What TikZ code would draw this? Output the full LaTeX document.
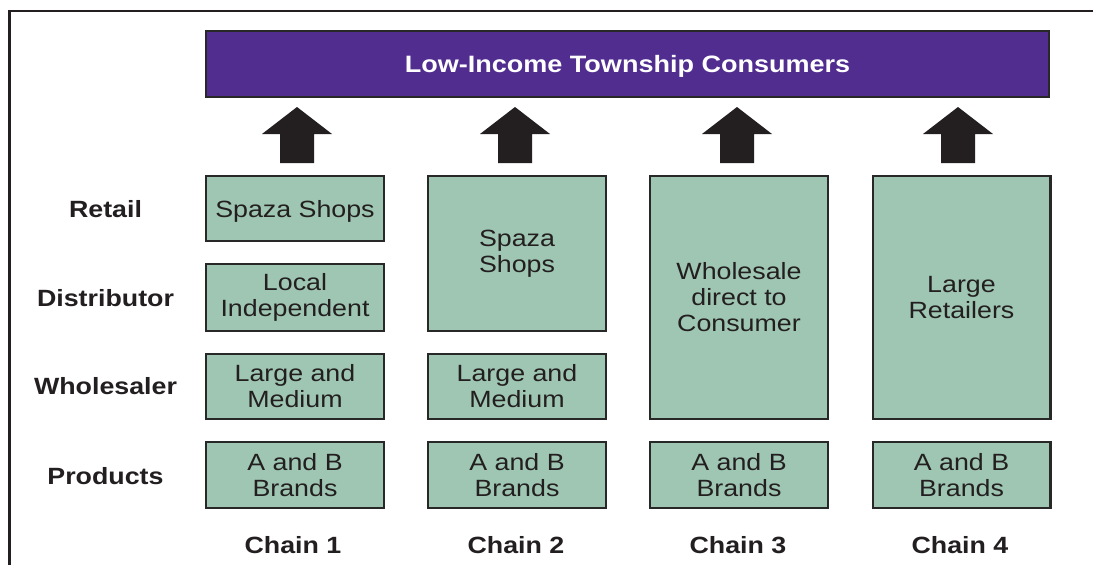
\documentclass[tikz,border=0pt]{standalone}
\usepackage{fontspec}
\newfontfamily\lsans{Liberation Sans}[FakeStretch=1.14]
\usetikzlibrary{calc}
\definecolor{purp}{RGB}{80,45,143}
\definecolor{sage}{RGB}{158,198,178}
\definecolor{edgec}{RGB}{40,40,40}
\definecolor{ink}{RGB}{35,31,32}
\begin{document}
\begin{tikzpicture}[x=1pt,y=-1pt,
  box/.style={draw=edgec, line width=2.2pt, fill=sage, minimum width=177.8pt, align=center, inner sep=0pt,
    font=\lsans\fontsize{23.5}{26}\selectfont, text=ink},
  rowlab/.style={anchor=base, font=\lsans\bfseries\fontsize{23.5}{26}\selectfont, text=ink},
  chainlab/.style={anchor=base, font=\lsans\bfseries\fontsize{23.5}{26}\selectfont, text=ink},
  uparrow/.pic={\fill[ink] (-17,0) -- (-17,-29) -- (-35,-29) -- (0,-56) -- (35,-29) -- (17,-29) -- (17,0) -- cycle;}
]
\useasboundingbox (0,0) rectangle (1093,565);
\fill[white] (0,0) rectangle (1093,565);
\draw[line width=2.7pt, ink] (9.7,565) -- (9.7,11) -- (1093,11);

% top consumer box
\node[draw=edgec, line width=2.2pt, fill=purp, minimum width=842.8pt, minimum height=65.8pt, inner sep=0pt, text depth=0pt,
  font=\lsans\bfseries\fontsize{23.7}{26}\selectfont, text=white] (top) at (627.5,64) {Low-Income Township Consumers};

% row labels
\node[rowlab] (lret) at (105.5,217) {Retail};
\node[rowlab] (ldis) at (105.5,306.5) {Distributor};
\node[rowlab] (lwho) at (105.5,394.5) {Wholesaler};
\node[rowlab] (lpro) at (105.5,484) {Products};

% chain 1
\node[box, minimum height=64.8pt, text depth=0pt] (r1) at (295,208.5) {Spaza Shops};
\node[box, minimum height=66.8pt] (d1) at (295,297.5) {Local\\Independent};
\node[box, minimum height=65pt] (w1) at (295,386.3) {Large and\\Medium};
\node[box, minimum height=65.8pt] (p1) at (295,475) {A and B\\Brands};
% chain 2
\node[box, minimum height=154.8pt] (r2) at (517,253.5) {Spaza\\Shops};
\node[box, minimum height=65pt] (w2) at (517,386.3) {Large and\\Medium};
\node[box, minimum height=65.8pt] (p2) at (517,475) {A and B\\Brands};
% chain 3
\node[box, minimum height=242.8pt] (r3) at (739,297.5) {Wholesale\\direct to\\Consumer};
\node[box, minimum height=65.8pt] (p3) at (739,475) {A and B\\Brands};
% chain 4
\node[box, minimum height=242.8pt] (r4) at (961.5,297.5) {Large\\Retailers};
\node[box, minimum height=65.8pt] (p4) at (961.5,475) {A and B\\Brands};

% chain labels
\node[chainlab] (c1) at (293,553) {Chain 1};
\node[chainlab] (c2) at (516,553) {Chain 2};
\node[chainlab] (c3) at (738,553) {Chain 3};
\node[chainlab] (c4) at (960,553) {Chain 4};

% block arrows up to consumers
\pic at ($(r1.north)+(2,-12)$) {uparrow};
\pic at ($(r2.north)+(-2,-12)$) {uparrow};
\pic at ($(r3.north)+(-2,-12)$) {uparrow};
\pic at ($(r4.north)+(-3.5,-12)$) {uparrow};
\end{tikzpicture}
\end{document}
